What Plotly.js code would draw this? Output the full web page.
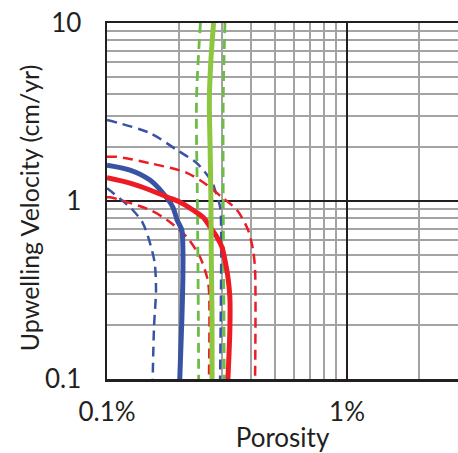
<!DOCTYPE html>
<html>
<head>
<meta charset="utf-8">
<script src="https://cdn.plot.ly/plotly-3.0.1.min.js"></script>
<style>html,body{margin:0;padding:0;background:#fff;}#chart{width:458px;height:453px;}</style>
</head>
<body>
<div id="chart"></div>
<script>
// Porosity in percent, upwelling velocity in cm/yr
const blueSolidX = [0.100, 0.1247, 0.151, 0.171, 0.188, 0.196, 0.205, 0.207, 0.207, 0.205, 0.201];
const blueSolidY = [1.59, 1.493, 1.312, 1.109, 0.925, 0.782, 0.687, 0.552, 0.360, 0.214, 0.1];

const blueDashOuterX = [0.100, 0.151, 0.196, 0.237, 0.274, 0.282, 0.296, 0.299, 0.299, 0.296];
const blueDashOuterY = [2.85, 2.41, 1.93, 1.63, 1.28, 1.15, 0.925, 0.661, 0.426, 0.1];

const blueDashInnerX = [0.100, 0.106, 0.128, 0.141, 0.151, 0.158, 0.160, 0.157, 0.155];
const blueDashInnerY = [1.18, 1.11, 0.890, 0.752, 0.581, 0.449, 0.316, 0.196, 0.1];

const redSolidX = [0.100, 0.1247, 0.151, 0.178, 0.201, 0.228, 0.251, 0.269, 0.287, 0.301, 0.310, 0.319, 0.325, 0.325, 0.319];
const redSolidY = [1.35, 1.26, 1.153, 1.053, 0.987, 0.890, 0.813, 0.714, 0.628, 0.552, 0.466, 0.374, 0.289, 0.188, 0.1];

const redDashOuterX = [0.100, 0.110, 0.151, 0.215, 0.261, 0.301, 0.348, 0.387, 0.406, 0.414, 0.414];
const redDashOuterY = [1.77, 1.77, 1.63, 1.44, 1.23, 1.05, 0.890, 0.687, 0.531, 0.409, 0.1];

const redDashInnerX = [0.100, 0.103, 0.151, 0.178, 0.215, 0.244, 0.261, 0.266, 0.266];
const redDashInnerY = [1.05, 1.05, 0.890, 0.782, 0.628, 0.485, 0.374, 0.316, 0.1];

const greenSolidX = [0.278, 0.271, 0.267, 0.269, 0.271, 0.272, 0.274, 0.274];
const greenSolidY = [10, 6.2, 3.69, 1.94, 1.01, 0.466, 0.214, 0.1];

const greenDashLeftX = [0.245, 0.236, 0.238, 0.240, 0.241];
const greenDashLeftY = [10, 3.69, 1.01, 0.27, 0.1];

const greenDashRightX = [0.310, 0.305, 0.305, 0.307, 0.308];
const greenDashRightY = [10, 3.69, 1.01, 0.27, 0.1];

const xMajorVals = [0.1, 1];
const xMajorText = ['0.1%', '1%'];
const xMinorVals = [0.2,0.3,0.4,0.5,0.6,0.7,0.8,0.9,2,3];
const yMajorVals = [0.1, 1, 10];
const yMajorText = ['0.1', '1', '10'];
const yMinorVals = [0.2,0.3,0.4,0.5,0.6,0.7,0.8,0.9,2,3,4,5,6,7,8,9];

const BLUE = '#3953a4', RED = '#ed1c24', GREEN = '#8dc63f', GREEN_D = '#6cbd45';

function tr(x, y, color, width, dash) {
  return {x: x, y: y, type: 'scatter', mode: 'lines', hoverinfo: 'skip',
          line: {color: color, width: width, dash: dash || 'solid', shape: 'spline', smoothing: 0.8}};
}

const data = [
  tr(blueDashOuterX, blueDashOuterY, BLUE, 2.5, '10px,6px'),
  tr(blueDashInnerX, blueDashInnerY, BLUE, 2.5, '10px,6px'),
  tr(redDashOuterX, redDashOuterY, RED, 2.5, '10px,6px'),
  tr(redDashInnerX, redDashInnerY, RED, 2.5, '10px,6px'),
  tr(greenDashLeftX, greenDashLeftY, GREEN_D, 2.8, '10px,6px'),
  tr(greenDashRightX, greenDashRightY, GREEN_D, 2.8, '10px,6px'),
  tr(blueSolidX, blueSolidY, BLUE, 5),
  tr(redSolidX, redSolidY, RED, 5),
  tr(greenSolidX, greenSolidY, GREEN, 5)
];

const FONT = 'Lato, "Open Sans", sans-serif';
const layout = {
  width: 458, height: 453,
  margin: {l: 107, r: 0, t: 23, b: 74},
  paper_bgcolor: '#fff', plot_bgcolor: '#fff',
  showlegend: false,
  font: {family: FONT, color: '#231f20', size: 26},
  xaxis: {
    type: 'log', range: [-1, 0.4625],
    tickmode: 'array', tickvals: xMajorVals, ticktext: xMajorText,
    ticks: '', ticklabelstandoff: 8,
    showgrid: true, gridcolor: '#231f20', gridwidth: 2.5,
    minor: {tickmode: 'array', tickvals: xMinorVals, ticks: '', showgrid: true, gridcolor: '#a3a3a3', gridwidth: 2},
    showline: true, linecolor: '#231f20', linewidth: 2.5, mirror: true,
    zeroline: false,
    tickfont: {size: 26},
    title: {text: 'Porosity', font: {size: 26}, standoff: 0}
  },
  yaxis: {
    type: 'log', range: [-1, 1],
    tickmode: 'array', tickvals: yMajorVals, ticktext: yMajorText,
    ticks: '', ticklabelstandoff: 18,
    showgrid: true, gridcolor: '#231f20', gridwidth: 2.5,
    minor: {tickmode: 'array', tickvals: yMinorVals, ticks: '', showgrid: true, gridcolor: '#a3a3a3', gridwidth: 2},
    showline: true, linecolor: '#231f20', linewidth: 2.5,
    zeroline: false,
    tickfont: {size: 26}
  },
  annotations: [
    {text: 'Upwelling Velocity (cm/yr)', xref: 'paper', yref: 'paper', x: -0.222, y: 0.48,
     xanchor: 'center', yanchor: 'middle', textangle: -90, showarrow: false,
     font: {family: FONT, size: 25, color: '#231f20'}}
  ]
};

Plotly.newPlot('chart', data, layout, {displayModeBar: false, staticPlot: true});
</script>
</body>
</html>
